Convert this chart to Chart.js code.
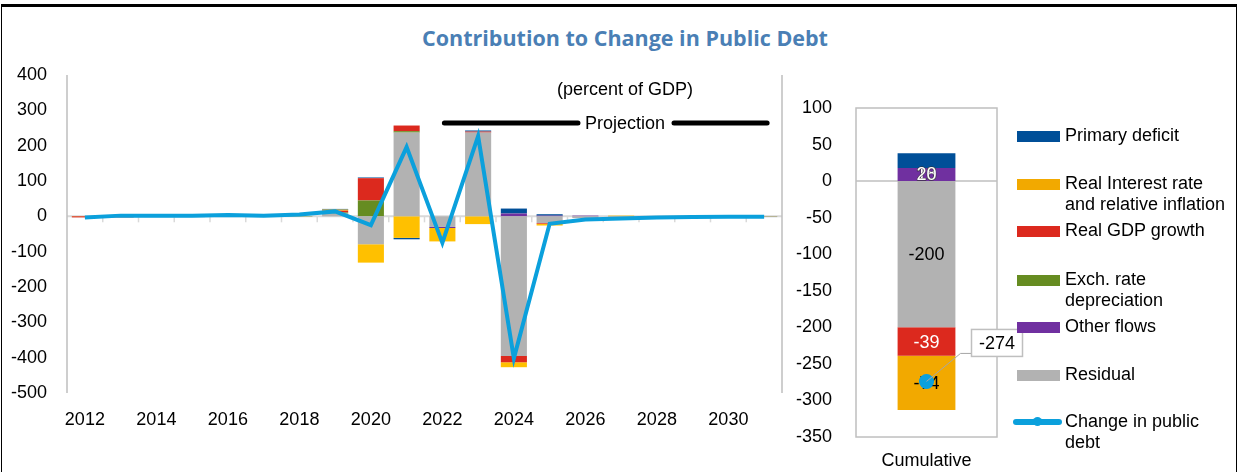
<!DOCTYPE html>
<html>
<head>
<meta charset="utf-8">
<script src="https://cdn.jsdelivr.net/npm/chart.js@4.4.1/dist/chart.umd.min.js"></script>
<style>
  body { margin: 0; width: 1238px; height: 472px; position: relative; overflow: hidden; background: #fff; font-family: "Liberation Sans", Arial, sans-serif; }
  #frame { position: absolute; left: 1px; top: 4px; width: 1234px; height: 480px; border-left: 1.5px solid #000; border-right: 1.5px solid #000; border-top: 3px solid #000; }
  #title { position: absolute; left: 0; width: 1250px; top: 23px; text-align: center; font: 700 21.5px "Open Sans"; color: #4a7fb5; }
  #left { position: absolute; left: 0; top: 0; }
  #right { position: absolute; left: 790px; top: 0; }
  .lg { position: absolute; left: 1065px; font-size: 18px; line-height: 21px; color: #000; white-space: nowrap; }
  .sw { position: absolute; left: 1017px; width: 43px; height: 11px; }
</style>
</head>
<body>
<div id="frame"></div>
<div id="title">Contribution to Change in Public Debt</div>
<canvas id="left" width="790" height="472"></canvas>
<canvas id="right" width="245" height="472"></canvas>
<div id="legend"></div>

<script>
// Annees et series (pourcentage du PIB)
const years = ["2012", "2013", "2014", "2015", "2016", "2017", "2018", "2019", "2020", "2021",
               "2022", "2023", "2024", "2025", "2026", "2027", "2028", "2029", "2030", "2031"];
const projStart = "2022";

const primaryDeficit = [0, 0, -2, -2, -2, -1, 0, 2, 2, -4, 0, 3, 14, 4, 0, 0, 0, 0, 0, -1];
const realInterest   = [1, 0, 0, 0, 0, 0, 0, 3, -52, -61, -38, -22, -14, -5, 0, 2, 1, 0, 0, 1];
const realGdpGrowth  = [-3, -3, 0, 0, 0, 0, 0, 5, 63, 16, 0, 3, -18, -2, 0, 0, 0, 0, 0, 0];
const exchRate       = [0, 0, 0, 0, 0, 0, -1, 3, 45, 4, 0, 0, 0, 0, 0, 0, -2, -2, -1, 0];
const otherFlows     = [0, 0, 0, 0, 0, 0, 0, 0, 0, 0, -3, 0, 8, 2, 2, 0, 0, 0, 0, 0];
const residual       = [0, 0, 0, 0, 0, 0, 0, 8, -79, 237, -30, 237, -395, -19, -5, -3, 0, 0, 0, -1];
const changeInDebt   = [-3, 2, 2, 2, 4, 2, 5, 14, -25, 196, -75, 227, -402, -21, -9, -6, -3, -2, -1, -1];

// Cumulatif
const cumCategory = ["Cumulative"];
const cumPrimary  = [20];
const cumInterest = [-74];
const cumGdp      = [-39];
const cumExch     = [0];
const cumOther    = [18];
const cumResidual = [-200];
const cumChange   = [-274];

const leftTicks  = [-500, -400, -300, -200, -100, 0, 100, 200, 300, 400];
const rightTicks = [-350, -300, -250, -200, -150, -100, -50, 0, 50, 100];

const names = ["Primary deficit", "Real Interest rate\nand relative inflation", "Real GDP growth",
               "Exch. rate\ndepreciation", "Other flows", "Residual", "Change in public\ndebt"];
const colors = {
  primary: "#004f98", interest: "#ffc000", interestCum: "#f2a900", gdp: "#dc291e",
  exch: "#668c21", other: "#7030a0", residual: "#b2b2b2", line: "#0ba0dc"
};

const axisFont = { family: "Liberation Sans", size: 18 };

function barSets(p, i, g, e, o, r, intColor) {
  // ordre d'empilement depuis zero : residual, other, exch, gdp, interest, primary
  return [
    { label: "Residual", data: r, backgroundColor: colors.residual, order: 1, stack: "s" },
    { label: "Other flows", data: o, backgroundColor: colors.other, order: 1, stack: "s" },
    { label: "Exch. rate", data: e, backgroundColor: colors.exch, order: 1, stack: "s" },
    { label: "Real GDP growth", data: g, backgroundColor: colors.gdp, order: 1, stack: "s" },
    { label: "Real Interest", data: i, backgroundColor: intColor, order: 1, stack: "s" },
    { label: "Primary deficit", data: p, backgroundColor: colors.primary, order: 1, stack: "s" },
  ];
}

// Decor du graphique de gauche
const leftDecor = {
  id: "leftDecor",
  beforeDatasetsDraw(chart) {
    const { ctx, chartArea: a, scales: { x, y } } = chart;
    const y0 = y.getPixelForValue(0);
    ctx.save();
    ctx.strokeStyle = "#d9d9d9";
    ctx.lineWidth = 2;
    ctx.beginPath(); ctx.moveTo(a.left, y0); ctx.lineTo(a.right, y0); ctx.stroke();
    ctx.lineWidth = 1.5;
    for (let k = 1; k < years.length; k++) {
      const px = (x.getPixelForValue(k - 1) + x.getPixelForValue(k)) / 2;
      ctx.beginPath(); ctx.moveTo(px, y0); ctx.lineTo(px, y0 + 6); ctx.stroke();
    }
    ctx.strokeStyle = "#bfbfbf";
    ctx.beginPath();
    ctx.moveTo(a.left, a.top); ctx.lineTo(a.left, a.bottom);
    ctx.moveTo(a.right, a.top); ctx.lineTo(a.right, a.bottom);
    ctx.stroke();
    ctx.restore();
  },
  afterDraw(chart) {
    const { ctx, scales: { x } } = chart;
    const x1 = x.getPixelForValue(years.indexOf(projStart));
    const x2 = x.getPixelForValue(years.length - 1);
    const ty = 124, tx = 625;
    ctx.save();
    ctx.font = "18px 'Liberation Sans'";
    ctx.fillStyle = "#000";
    ctx.textAlign = "center";
    ctx.textBaseline = "middle";
    ctx.fillText("(percent of GDP)", tx, 90);
    ctx.fillText("Projection", tx, ty);
    const half = ctx.measureText("Projection").width / 2 + 9;
    ctx.strokeStyle = "#000";
    ctx.lineWidth = 5;
    ctx.lineCap = "round";
    ctx.beginPath();
    ctx.moveTo(x1 + 2, ty - 1); ctx.lineTo(tx - half + 2, ty - 1);
    ctx.moveTo(tx + half, ty - 1); ctx.lineTo(x2 + 3, ty - 1);
    ctx.stroke();
    ctx.restore();
  }
};

new Chart(document.getElementById("left"), {
  type: "bar",
  data: {
    labels: years,
    datasets: [
      { type: "line", label: "Change in public debt", data: changeInDebt, borderColor: colors.line,
        borderWidth: 4, pointRadius: 0, tension: 0, order: 0, stack: "line" },
      ...barSets(primaryDeficit, realInterest, realGdpGrowth, exchRate, otherFlows, residual, colors.interest)
    ]
  },
  options: {
    responsive: false,
    animation: false,
    devicePixelRatio: 1,
    layout: { padding: { top: 75, right: 8, bottom: 0, left: 0 } },
    datasets: { bar: { barPercentage: 0.73, categoryPercentage: 1 } },
    plugins: { legend: { display: false }, tooltip: { enabled: false } },
    scales: {
      x: {
        stacked: true,
        grid: { display: false },
        border: { display: false },
        ticks: {
          autoSkip: false, maxRotation: 0, padding: 8, color: "#000", font: axisFont,
          callback: (v, i) => (i % 2 === 0 ? years[i] : "")
        },
        afterFit: (s) => { s.height = 79; }
      },
      y: {
        stacked: true,
        min: leftTicks[0], max: leftTicks[leftTicks.length - 1],
        grid: { display: false },
        border: { display: false },
        afterBuildTicks: (s) => { s.ticks = leftTicks.map((v) => ({ value: v })); },
        ticks: { color: "#000", font: axisFont, padding: 12 },
        afterFit: (s) => { s.width = 67; }
      }
    }
  },
  plugins: [leftDecor]
});

// Decor du graphique cumulatif
const cumDecor = {
  id: "cumDecor",
  beforeDatasetsDraw(chart) {
    const { ctx, chartArea: a, scales: { y } } = chart;
    const y0 = y.getPixelForValue(0);
    ctx.save();
    ctx.strokeStyle = "#bfbfbf";
    ctx.lineWidth = 1.5;
    ctx.strokeRect(a.left, a.top, a.right - a.left, a.bottom - a.top);
    ctx.beginPath(); ctx.moveTo(a.left, y0); ctx.lineTo(a.right, y0); ctx.stroke();
    ctx.restore();
  },
  afterDatasetsDraw(chart) {
    const { ctx } = chart;
    const ds = chart.data.datasets;
    const idx = (name) => ds.findIndex((d) => d.label === name);
    const seg = (name) => chart.getDatasetMeta(idx(name)).data[0];
    const labels = [
      { from: "Residual", at: "Residual", color: "#000" },
      { from: "Real GDP growth", at: "Real GDP growth", color: "#fff" },
      { from: "Real Interest", at: "Real Interest", color: "#000" },
      { from: "Other flows", at: "Other flows", color: "#fff", outline: true },
      { from: "Primary deficit", at: "Other flows", color: "#fff", outline: true },
    ];
    ctx.save();
    ctx.font = "18px 'Liberation Sans'";
    ctx.textAlign = "center";
    ctx.textBaseline = "middle";
    labels.forEach((l) => {
      const el = seg(l.at);
      const v = ds[idx(l.from)].data[0];
      const cy = (el.y + el.base) / 2 + 1;
      if (l.outline) {
        ctx.strokeStyle = "rgba(50,50,50,0.7)";
        ctx.lineWidth = 1.2;
        ctx.strokeText(String(v), el.x, cy);
      }
      ctx.fillStyle = l.color;
      ctx.fillText(String(v), el.x, cy);
    });
    // le point passe au-dessus des etiquettes
    const p = chart.getDatasetMeta(0).data[0];
    ctx.fillStyle = colors.line;
    ctx.beginPath();
    ctx.arc(p.x, p.y, 7.5, 0, Math.PI * 2);
    ctx.fill();
    ctx.restore();
  },
  afterDraw(chart) {
    const { ctx } = chart;
    const p = chart.getDatasetMeta(0).data[0];
    const v = chart.data.datasets[0].data[0];
    const bx = p.x + 45, by = p.y - 52, bw = 51, bh = 27;
    ctx.save();
    ctx.strokeStyle = "#a6a6a6";
    ctx.lineWidth = 1;
    ctx.beginPath();
    ctx.moveTo(p.x, p.y); ctx.lineTo(p.x + 34, by + 24); ctx.lineTo(bx, by + 24);
    ctx.stroke();
    ctx.fillStyle = "#fff";
    ctx.fillRect(bx, by, bw, bh);
    ctx.strokeStyle = "#bfbfbf";
    ctx.lineWidth = 1.5;
    ctx.strokeRect(bx, by, bw, bh);
    ctx.font = "18px 'Liberation Sans'";
    ctx.fillStyle = "#000";
    ctx.textAlign = "center";
    ctx.textBaseline = "middle";
    ctx.fillText(String(v), bx + bw / 2, by + bh / 2 + 1);
    ctx.restore();
  }
};

new Chart(document.getElementById("right"), {
  type: "bar",
  data: {
    labels: cumCategory,
    datasets: [
      { type: "line", label: "Change in public debt", data: cumChange, borderColor: colors.line,
        backgroundColor: colors.line, pointRadius: 7, pointBorderWidth: 0, order: 0, stack: "line" },
      ...barSets(cumPrimary, cumInterest, cumGdp, cumExch, cumOther, cumResidual, colors.interestCum)
    ]
  },
  options: {
    responsive: false,
    animation: false,
    devicePixelRatio: 1,
    layout: { padding: { top: 108, right: 38, bottom: 0, left: 0 } },
    datasets: { bar: { barPercentage: 0.41, categoryPercentage: 1 } },
    plugins: { legend: { display: false }, tooltip: { enabled: false } },
    scales: {
      x: {
        stacked: true,
        grid: { display: false },
        border: { display: false },
        ticks: { color: "#000", font: axisFont, padding: 5 },
        afterFit: (s) => { s.height = 35; }
      },
      y: {
        stacked: true,
        min: rightTicks[0], max: rightTicks[rightTicks.length - 1],
        grid: { display: false },
        border: { display: false },
        afterBuildTicks: (s) => { s.ticks = rightTicks.map((v) => ({ value: v })); },
        ticks: { color: "#000", font: axisFont, padding: 16 },
        afterFit: (s) => { s.width = 66; }
      }
    }
  },
  plugins: [cumDecor]
});

// Legende
const legendColors = [colors.primary, colors.interestCum, colors.gdp, colors.exch, colors.other, colors.residual, colors.line];
const legendY = [136, 184, 231, 280, 327, 375, 422];
const legendBox = document.getElementById("legend");
names.forEach((n, k) => {
  const cy = legendY[k];
  if (k === names.length - 1) {
    const ln = document.createElement("div");
    ln.className = "sw";
    ln.style.cssText = `left:1013px;width:49px;height:6px;top:${cy - 3}px;border-radius:3px;background:${legendColors[k]}`;
    legendBox.appendChild(ln);
    const dot = document.createElement("div");
    dot.className = "sw";
    dot.style.cssText = `left:1033px;width:9px;height:9px;top:${cy - 5}px;border-radius:50%;background:${legendColors[k]}`;
    legendBox.appendChild(dot);
  } else {
    const sw = document.createElement("div");
    sw.className = "sw";
    sw.style.top = (cy - 5) + "px";
    sw.style.background = legendColors[k];
    legendBox.appendChild(sw);
  }
  const t = document.createElement("div");
  t.className = "lg";
  t.style.top = (cy - 11) + "px";
  t.innerHTML = n.replace("\n", "<br>");
  legendBox.appendChild(t);
});
</script>
</body>
</html>
